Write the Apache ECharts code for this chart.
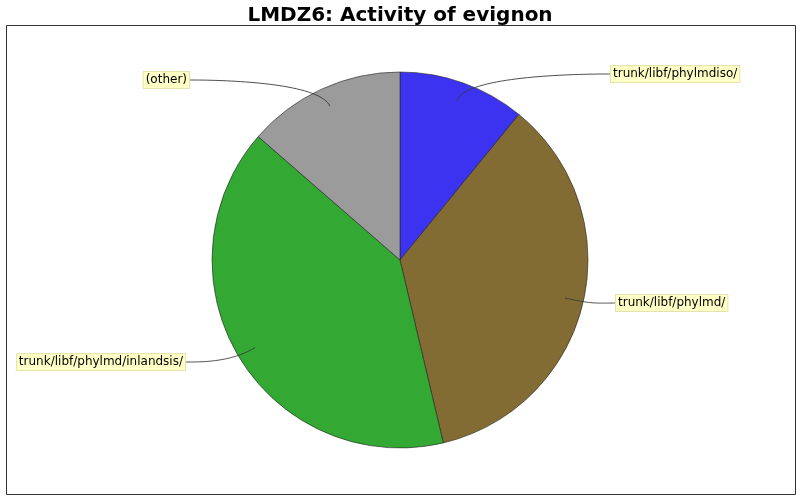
<!DOCTYPE html>
<html><head><meta charset="utf-8">
<script src="https://cdn.jsdelivr.net/npm/echarts@6/dist/echarts.min.js"></script>
<style>html,body{margin:0;padding:0;background:#fff}#c{width:800px;height:500px}</style>
</head><body><div id="c"></div>
<script>
const categories = ['trunk/libf/phylmdiso/', 'trunk/libf/phylmd/', 'trunk/libf/phylmd/inlandsis/', '(other)'];
const values = [10.9, 35.4, 40.1, 13.6];
const colors = ['#3b33f0', '#836c33', '#33a833', '#9b9b9b'];

const CX = 400, CY = 260, R = 188, RL = 198;
// label anchor: [x, y, side]  (side 1 = label to the right, -1 = to the left)
const labelAnchors = [[611, 74, 1], [616, 303, 1], [185, 362, -1], [189, 80, -1]];

const total = values.reduce((a, b) => a + b, 0);
function midDir(i) {
  let acc = 0;
  for (let j = 0; j < i; j++) acc += values[j];
  const a = (acc + values[i] / 2) / total * 2 * Math.PI;
  return [Math.sin(a), -Math.cos(a)];
}
function cubic(p0, c1, c2, p3, n) {
  const pts = [];
  for (let k = 0; k <= n; k++) {
    const t = k / n, u = 1 - t;
    pts.push([
      u*u*u*p0[0] + 3*u*u*t*c1[0] + 3*u*t*t*c2[0] + t*t*t*p3[0],
      u*u*u*p0[1] + 3*u*u*t*c1[1] + 3*u*t*t*c2[1] + t*t*t*p3[1]
    ]);
  }
  return pts;
}

const chart = echarts.init(document.getElementById('c'), null, {renderer: 'canvas'});
chart.setOption({
  animation: false,
  backgroundColor: '#fff',
  title: {
    text: 'LMDZ6: Activity of evignon', left: 'center', top: 1,
    textStyle: {fontFamily: 'DejaVu Sans', fontWeight: 'bold', fontSize: 20, color: '#000'}
  },
  graphic: [{
    type: 'rect', shape: {x: 6.5, y: 25.5, width: 789, height: 469},
    style: {fill: 'none', stroke: '#333', lineWidth: 1}, silent: true, z: -1
  }],
  series: [{
    type: 'pie', z: 2,
    center: [CX, CY], radius: R,
    startAngle: 90, clockwise: true,
    data: categories.map((n, i) => ({name: n, value: values[i], itemStyle: {color: colors[i]}})),
    itemStyle: {borderColor: '#222', borderWidth: 0.6},
    emphasis: {disabled: true},
    label: {show: false}, labelLine: {show: false}
  }, {
    type: 'pie', z: 5, silent: true,
    center: [CX, CY], radius: R,
    startAngle: 90, clockwise: true,
    avoidLabelOverlap: false,
    data: categories.map((n, i) => ({name: n, value: values[i]})),
    itemStyle: {color: 'rgba(0,0,0,0)', borderWidth: 0},
    emphasis: {disabled: true},
    label: {
      show: true, position: 'outside', formatter: '{b}',
      fontFamily: 'DejaVu Sans', fontSize: 12, color: '#000',
      backgroundColor: '#ffffc6', borderColor: '#e3e3b0', borderWidth: 1,
      padding: [2, 2, 2, 2]
    },
    labelLine: {show: true, smooth: false, lineStyle: {color: '#3a3a3a', width: 0.9}},
    labelLayout: function (p) {
      const i = p.dataIndex;
      const d = midDir(i);
      const L = labelAnchors[i];
      const link = [CX + 0.9 * R * d[0], CY + 0.9 * R * d[1]];
      const elbow = [CX + RL * d[0], CY + RL * d[1]];
      const c1 = [CX + L[2] * RL, L[1]];
      return {
        x: L[0], y: L[1],
        align: L[2] > 0 ? 'left' : 'right', verticalAlign: 'middle',
        labelLinePoints: cubic([L[0], L[1]], c1, elbow, link, 40)
      };
    }
  }]
});
</script></body></html>
